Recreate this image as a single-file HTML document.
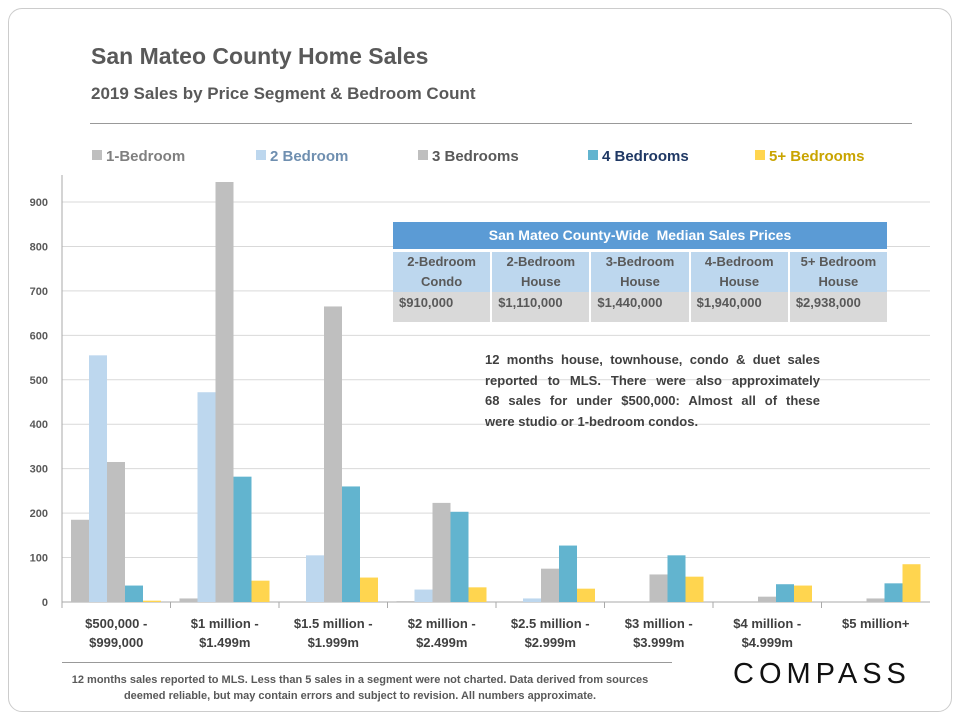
<!DOCTYPE html>
<html><head><meta charset="utf-8"><style>
body{margin:0;width:960px;height:720px;background:#fff;font-family:"Liberation Sans",sans-serif;overflow:hidden;position:relative}
.card{position:absolute;left:8px;top:8px;width:942px;height:702px;border:1px solid #ccc;border-radius:14px}
.t{position:absolute;font-weight:bold;color:#595959}
.nl{display:block;text-align:justify;text-align-last:justify}
</style></head><body>
<div class="card"></div>
<div class="t" style="left:91px;top:43px;font-size:23px">San Mateo County Home Sales</div>
<div class="t" style="left:91px;top:84px;font-size:17px">2019 Sales by Price Segment &amp; Bedroom Count</div>
<div style="position:absolute;left:90px;top:123px;width:822px;height:1px;background:#999"></div>
<svg id="chart" width="960" height="720" style="position:absolute;left:0;top:0"></svg>
<div style="position:absolute;left:393px;top:222px;width:494px;font-weight:bold;font-size:13px;color:#595959">
<div style="background:#5b9bd5;color:#fff;text-align:center;height:27px;line-height:27px;font-size:14px">San Mateo County-Wide&nbsp; Median Sales Prices</div>
<div style="display:flex;margin-top:3px;background:#bdd7ee;height:40px">
<div style="flex:1;text-align:center;line-height:20px;border-right:2px solid #fff">2-Bedroom<br>Condo</div>
<div style="flex:1;text-align:center;line-height:20px;border-right:2px solid #fff">2-Bedroom<br>House</div>
<div style="flex:1;text-align:center;line-height:20px;border-right:2px solid #fff">3-Bedroom<br>House</div>
<div style="flex:1;text-align:center;line-height:20px;border-right:2px solid #fff">4-Bedroom<br>House</div>
<div style="flex:1;text-align:center;line-height:20px">5+ Bedroom<br>House</div></div>
<div style="display:flex;background:#d9d9d9;height:30px;line-height:22px">
<div style="flex:1;padding-left:6px;border-right:2px solid #fff">$910,000</div>
<div style="flex:1;padding-left:6px;border-right:2px solid #fff">$1,110,000</div>
<div style="flex:1;padding-left:6px;border-right:2px solid #fff">$1,440,000</div>
<div style="flex:1;padding-left:6px;border-right:2px solid #fff">$1,940,000</div>
<div style="flex:1;padding-left:6px">$2,938,000</div></div></div>
<div style="position:absolute;left:485px;top:350px;width:335px;font-size:13px;font-weight:bold;color:#404040;line-height:20.5px">
<span class="nl">12 months house, townhouse, condo &amp; duet sales</span>
<span class="nl">reported to MLS. There were also approximately</span>
<span class="nl">68 sales for under $500,000: Almost all of these</span>
<span style="display:block">were studio or 1-bedroom condos.</span></div>
<div style="position:absolute;left:62px;top:662px;width:610px;height:1px;background:#999"></div>
<div style="position:absolute;left:50px;top:672px;width:620px;text-align:center;font-size:11px;font-weight:bold;color:#595959;line-height:16px">12 months sales reported to MLS. Less than 5 sales in a segment were not charted. Data derived from sources deemed reliable, but may contain errors and subject to revision. All numbers approximate.</div>
<div style="position:absolute;left:733px;top:658px;font-size:29px;letter-spacing:5px;color:#111">COMPASS</div>
<script>
const categories=["$500,000 -|$999,000","$1 million -|$1.499m","$1.5 million -|$1.999m","$2 million -|$2.499m","$2.5 million -|$2.999m","$3 million -|$3.999m","$4 million -|$4.999m","$5 million+"];
const seriesNames=["1-Bedroom","2 Bedroom","3 Bedrooms","4 Bedrooms","5+ Bedrooms"];
const bed1=[185,8,0,2,0,0,0,0];
const bed2=[555,472,105,28,8,0,0,0];
const bed3=[315,945,665,223,75,62,12,8];
const bed4=[37,282,260,203,127,105,40,42];
const bed5=[3,48,55,33,30,57,37,85];
const yTicks=[0,100,200,300,400,500,600,700,800,900];
const series=[bed1,bed2,bed3,bed4,bed5];
const colors=["#bfbfbf","#bdd7ee","#bfbfbf","#62b4cf","#ffd54f"];
const legendColors=["#7f7f7f","#6f8fb0","#595959","#1f3864","#c9a400"];
const svg=document.getElementById('chart');const NS="http://www.w3.org/2000/svg";
const x0=62,x1=930,yB=602,ppu=400/900,gw=(x1-x0)/categories.length;
const y=v=>yB-v*ppu;
function mk(t,a){const e=document.createElementNS(NS,t);for(const k in a)e.setAttribute(k,a[k]);svg.appendChild(e);return e;}
yTicks.forEach(v=>{
 if(v>0){const g=mk('line',{x1:x0,x2:x1,y1:y(v),y2:y(v),stroke:'#d9d9d9'});
 
 }
 const t=mk('text',{x:48,y:y(v)+4,'text-anchor':'end','font-size':11,'font-weight':'bold',fill:'#595959'});t.textContent=v;
 
 
});
const ax=mk('line',{x1:x0,x2:x0,y1:175,y2:yB,stroke:'#aaa'});


const bx=mk('line',{x1:x0,x2:x1,y1:yB,y2:yB,stroke:'#aaa'});


categories.forEach((c,i)=>{
 const gx=x0+i*gw;
 const tk=mk('line',{x1:gx,x2:gx,y1:yB,y2:yB+6,stroke:'#aaa'});
 
 
 series.forEach((s,j)=>{if(s[i]<=0)return;
  const r=mk('rect',{x:gx+9+j*18,y:y(s[i]),width:18,height:s[i]*ppu,fill:colors[j]});
  
  });
 c.split('|').forEach((ln,k)=>{const t=mk('text',{x:gx+gw/2,y:628+k*19,'text-anchor':'middle','font-size':13,'font-weight':'bold',fill:'#404040'});t.textContent=ln;
  
  });
});
const lx=[92,256,418,588,755];
seriesNames.forEach((n,j)=>{
 const r=mk('rect',{x:lx[j],y:150,width:10,height:10,fill:colors[j]});
 
 
 const t=mk('text',{x:lx[j]+14,y:161,'font-size':15,'font-weight':'bold',fill:legendColors[j]});t.textContent=n;
 
 
});
</script>
</body></html>
